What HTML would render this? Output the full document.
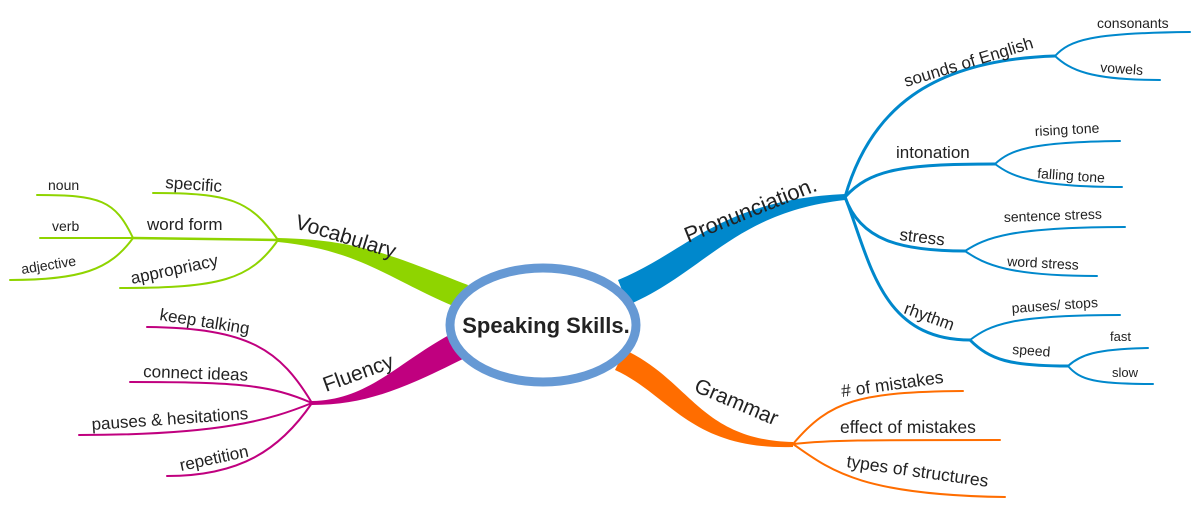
<!DOCTYPE html>
<html><head><meta charset="utf-8"><style>
html,body{margin:0;padding:0;background:#fff;width:1200px;height:513px;overflow:hidden}
svg{display:block}
text{font-family:"Liberation Sans",sans-serif;fill:#222}
</style></head><body>
<svg width="1200" height="513" viewBox="0 0 1200 513" xmlns="http://www.w3.org/2000/svg">
<g fill="none" stroke-linecap="round">
<!-- Pronunciation -->
<path d="M618 280 C690 250,720 200,845 194 L845 200 C735 212,705 272,628 305 Z" fill="#0088cc" stroke="none"/>
<g stroke="#0088cc" stroke-width="3">
<path d="M845 197 C870 110,930 60,1055 56"/>
<path d="M1055 56 C1070 40,1090 33,1190 32" stroke-width="2"/>
<path d="M1055 56 C1070 70,1090 80,1160 80" stroke-width="2"/>
<path d="M845 197 C870 170,900 164,995 164"/>
<path d="M995 164 C1010 150,1030 142,1120 141" stroke-width="2"/>
<path d="M995 164 C1010 175,1030 187,1122 187" stroke-width="2"/>
<path d="M845 197 C860 240,900 251,965 251"/>
<path d="M965 251 C985 238,1010 227,1125 227" stroke-width="2"/>
<path d="M965 251 C985 265,1010 276,1097 276" stroke-width="2"/>
<path d="M845 197 C870 260,880 340,970 340"/>
<path d="M970 340 C990 325,1010 315,1120 315" stroke-width="2"/>
<path d="M970 340 C990 360,1010 366,1068 366"/>
<path d="M1068 366 C1080 355,1095 349,1148 348" stroke-width="2"/>
<path d="M1068 366 C1080 380,1095 384,1153 384" stroke-width="2"/>
</g>
<!-- Grammar -->
<path d="M625 350 C690 380,700 440,793 442 L793 447 C690 450,670 395,615 370 Z" fill="#ff6d00" stroke="none"/>
<g stroke="#ff6d00" stroke-width="2">
<path d="M793 444 C830 400,860 392,963 391"/>
<path d="M793 444 C830 440,860 440,1000 440"/>
<path d="M793 444 C830 470,860 495,1005 497"/>
</g>
<!-- Vocabulary -->
<path d="M278 238 C360 240,390 255,468 285 L458 308 C390 280,360 250,278 242 Z" fill="#8fd400" stroke="none"/>
<g stroke="#8fd400" stroke-width="2.5">
<path d="M278 240 C250 200,230 193,153 193" stroke-width="2"/>
<path d="M278 240 L133 238"/>
<path d="M278 240 C250 280,220 288,120 288" stroke-width="2"/>
<path d="M133 238 C115 200,100 195,37 195" stroke-width="2"/>
<path d="M133 238 L40 238" stroke-width="2"/>
<path d="M133 238 C110 270,80 280,10 280" stroke-width="2"/>
</g>
<!-- Fluency -->
<path d="M312 401 C370 400,400 360,455 332 L465 358 C410 385,370 405,312 405 Z" fill="#c0007f" stroke="none"/>
<g stroke="#c0007f" stroke-width="2">
<path d="M312 403 C280 350,250 328,147 327"/>
<path d="M312 403 C270 385,240 382,130 382"/>
<path d="M312 403 C270 420,220 435,79 435"/>
<path d="M312 403 C280 450,240 476,167 476"/>
</g>
<!-- center -->
<ellipse cx="543" cy="325" rx="93" ry="57" fill="#fff" stroke="#6699d4" stroke-width="9"/>
</g>
<text x="546" y="333" text-anchor="middle" font-size="22" font-weight="bold">Speaking Skills.</text>

<text font-size="22" transform="translate(688,243) rotate(-22)">Pronunciation.</text>
<text font-size="17" transform="translate(906,87) rotate(-17)">sounds of English</text>
<text font-size="14" x="1097" y="28">consonants</text>
<text font-size="14" transform="translate(1100,72) rotate(4)">vowels</text>
<text font-size="17" x="896" y="158">intonation</text>
<text font-size="14" transform="translate(1035,136) rotate(-3)">rising tone</text>
<text font-size="14" transform="translate(1037,178) rotate(4)">falling tone</text>
<text font-size="17" transform="translate(899,240) rotate(7)">stress</text>
<text font-size="14" transform="translate(1004,222) rotate(-2)">sentence stress</text>
<text font-size="14" transform="translate(1007,266) rotate(3)">word stress</text>
<text font-size="17" transform="translate(903,313) rotate(20)">rhythm</text>
<text font-size="14" transform="translate(1012,313) rotate(-4)">pauses/ stops</text>
<text font-size="14" transform="translate(1012,354) rotate(4)">speed</text>
<text font-size="13" x="1110" y="341">fast</text>
<text font-size="13" x="1112" y="377">slow</text>

<text font-size="21" transform="translate(693,391) rotate(23)">Grammar</text>
<text font-size="17.5" transform="translate(842,397) rotate(-8)"># of mistakes</text>
<text font-size="17.5" x="840" y="433">effect of mistakes</text>
<text font-size="17.5" transform="translate(846,467) rotate(8)">types of structures</text>

<text font-size="21" transform="translate(294,228) rotate(17)">Vocabulary</text>
<text font-size="17" transform="translate(165,188) rotate(4)">specific</text>
<text font-size="17" x="147" y="230">word form</text>
<text font-size="17" transform="translate(132,284) rotate(-12)">appropriacy</text>
<text font-size="14" x="48" y="190">noun</text>
<text font-size="14" x="52" y="231">verb</text>
<text font-size="14" transform="translate(22,274) rotate(-9)">adjective</text>

<text font-size="21" transform="translate(326,392) rotate(-20)">Fluency</text>
<text font-size="17" transform="translate(159,320) rotate(9)">keep talking</text>
<text font-size="17" transform="translate(143,377) rotate(2)">connect ideas</text>
<text font-size="17" transform="translate(92,430) rotate(-4)">pauses &amp; hesitations</text>
<text font-size="17" transform="translate(181,471) rotate(-12)">repetition</text>
</svg>
</body></html>
